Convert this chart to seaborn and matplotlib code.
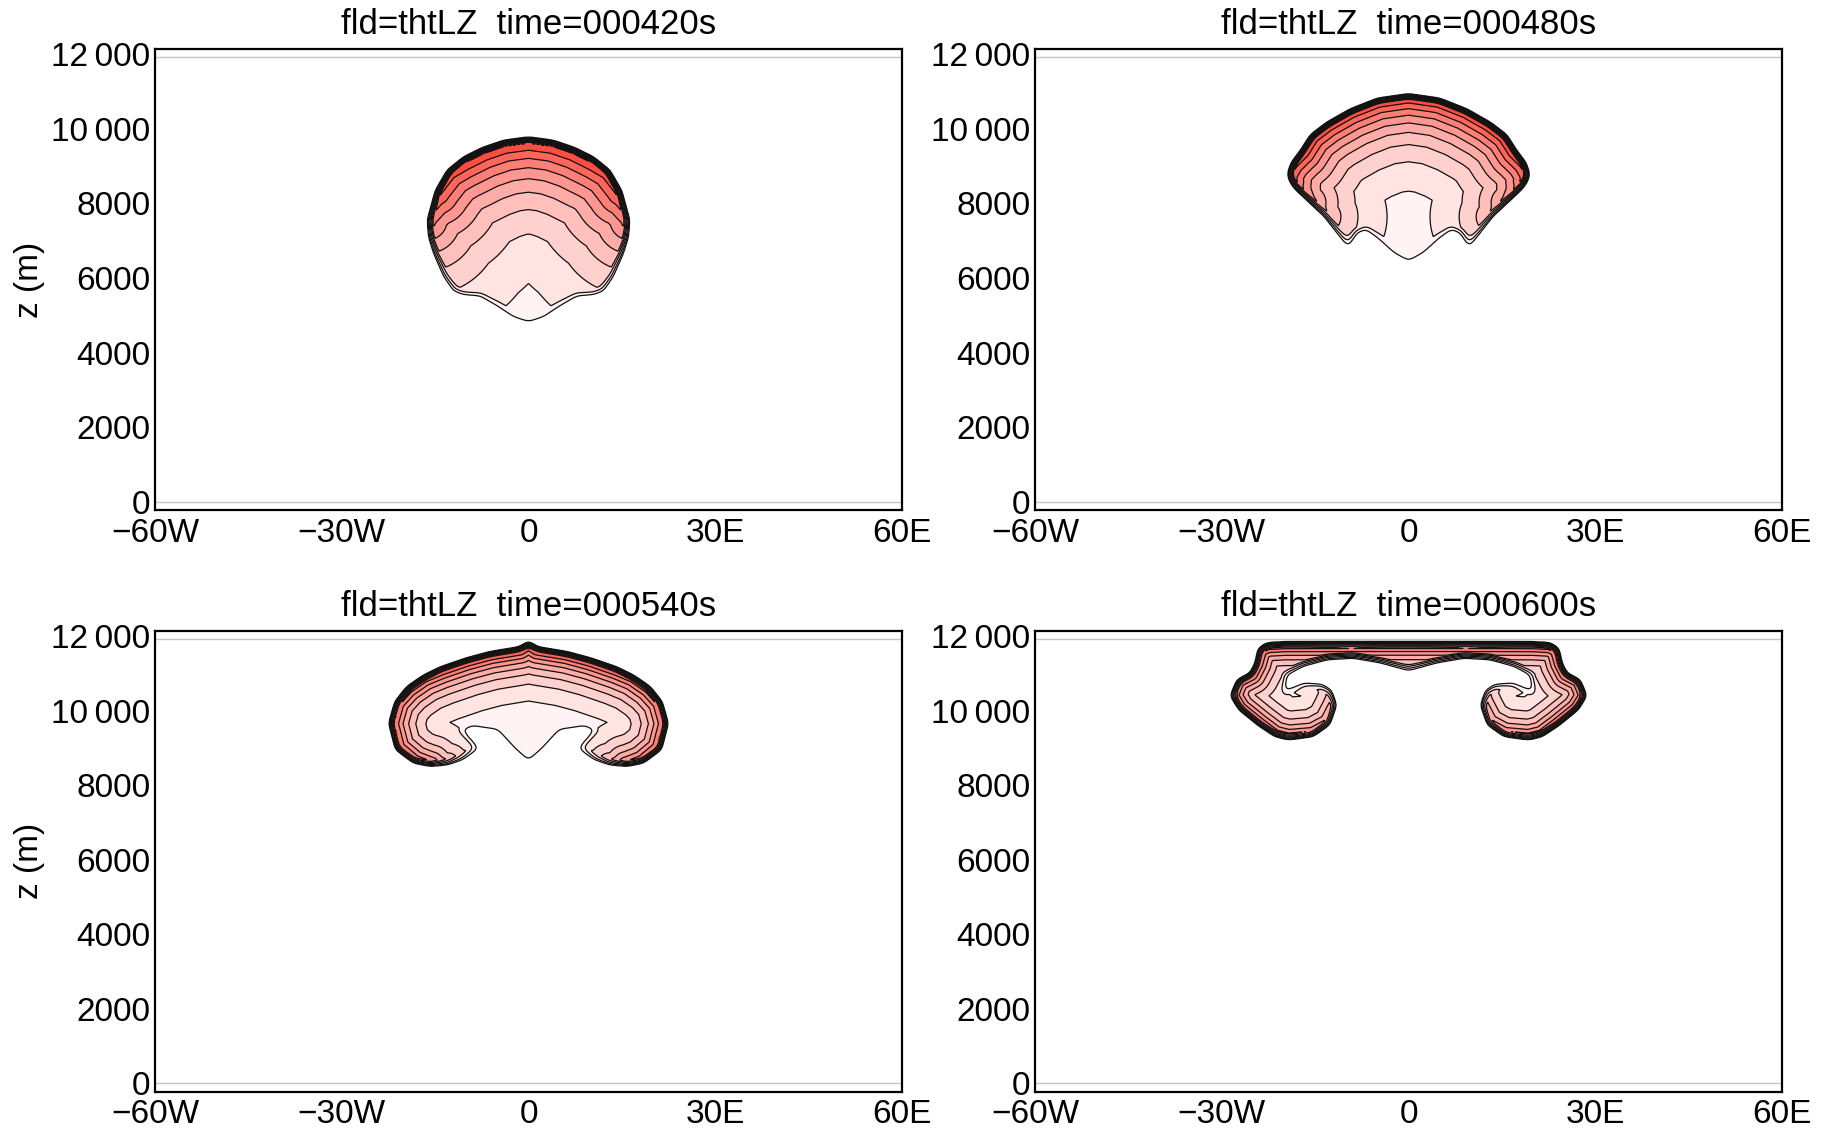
import numpy as np
import matplotlib
matplotlib.use("Agg")
import matplotlib.pyplot as plt
from matplotlib.path import Path
import seaborn as sns

sns.set_theme(style="white")
plt.rcParams['font.family'] = ['Liberation Sans', 'DejaVu Sans']
plt.rcParams['text.color'] = 'black'
plt.rcParams['axes.labelcolor'] = 'black'

times = ["000420", "000480", "000540", "000600"]
xticks = [-60, -30, 0, 30, 60]
xlabels = ["\u221260W", "\u221230W", "0", "30E", "60E"]
zticks = [0, 2000, 4000, 6000, 8000, 10000, 12000]
zlabels = ["0", "2000", "4000", "6000", "8000", "10\u2009000", "12\u2009000"]

# bubble outlines: x (km), z (m), and how warm the edge is there (0-1)
x420 = [0, 4, 7.5, 10.5, 13.1, 15, 16.3, 16.1, 15.3, 13.7, 12.1, 10.5, 7.8, 5.1, 2.5, 0,
        -2.5, -5.1, -7.8, -10.5, -12.1, -13.7, -15.3, -16.1, -16.3, -15, -13.1, -10.5, -7.5, -4]
z420 = [9790, 9700, 9500, 9250, 8900, 8350, 7560, 7100, 6660, 6040, 5640, 5540, 5500, 5230, 4930, 4780,
        4930, 5230, 5500, 5540, 5640, 6040, 6660, 7100, 7560, 8350, 8900, 9250, 9500, 9700]
h420 = [1, 1, 1, 1, 0.95, 0.9, 0.7, 0.5, 0.38, 0.25, 0.12, 0.06, 0.05, 0.05, 0.05, 0.05,
        0.05, 0.05, 0.05, 0.06, 0.12, 0.25, 0.38, 0.5, 0.7, 0.9, 0.95, 1, 1, 1]

x480 = [0, 5, 9.4, 13.2, 15.8, 17.4, 18.9, 19.5, 19.2, 18.4, 16, 13.6, 9.7, 8.2, 6.9, 5, 2.5, 0,
        -2.5, -5, -6.9, -8.2, -9.7, -13.6, -16, -18.4, -19.2, -19.5, -18.9, -17.4, -15.8, -13.2, -9.4, -5]
z480 = [10950, 10830, 10540, 10180, 9850, 9430, 9100, 8800, 8600, 8400, 8020, 7645, 6800, 7200, 7290, 7050, 6650, 6390,
        6650, 7050, 7290, 7200, 6800, 7645, 8020, 8400, 8600, 8800, 9100, 9430, 9850, 10180, 10540, 10830]
h480 = [1, 1, 1, 1, 1, 1, 0.95, 0.9, 0.85, 0.75, 0.6, 0.45, 0.12, 0.05, 0.05, 0.05, 0.05, 0.05,
        0.05, 0.05, 0.05, 0.05, 0.12, 0.45, 0.6, 0.75, 0.85, 0.9, 0.95, 1, 1, 1, 1, 1]

x540 = [0, 1.5, 6.2, 10, 14.2, 17, 19.6, 21.5, 22.5, 21.4, 18.5, 15.8, 13, 10.5, 7.8, 10.4, 8.9, 5.1, 2.4, 0,
        -2.4, -5.1, -8.9, -10.4, -7.8, -10.5, -13, -15.8, -18.5, -21.4, -22.5, -21.5, -19.6, -17, -14.2, -10, -6.2, -1.5]
z540 = [11880, 11720, 11590, 11420, 11180, 10950, 10650, 10250, 9660, 8950, 8590, 8500, 8540, 8680, 8990, 9485, 9556, 9437, 8950, 8590,
        8950, 9437, 9556, 9485, 8990, 8680, 8540, 8500, 8590, 8950, 9660, 10250, 10650, 10950, 11180, 11420, 11590, 11720]
h540 = [1, 1, 1, 1, 1, 0.95, 0.95, 0.9, 0.9, 0.9, 0.85, 0.75, 0.5, 0.3, 0.08, 0.05, 0.05, 0.05, 0.05, 0.05,
        0.05, 0.05, 0.05, 0.05, 0.08, 0.3, 0.5, 0.75, 0.85, 0.9, 0.9, 0.9, 0.95, 0.95, 1, 1, 1, 1]

x600 = [0, -10, -20, -22.8, -24.2, -24.7, -25.5, -27.6, -28.7, -27.3, -24.2, -21.5, -19.3, -15.3, -12.6, -11.5,
        -12.3, -13.8, -16.8, -19.8, -19.4, -16.9, -13, -8.9, -4.6, 0,
        4.6, 8.9, 13, 16.9, 19.4, 19.8, 16.8, 13.8, 12.3, 11.5, 12.6, 15.3, 19.3, 21.5, 24.2,
        27.3, 28.7, 27.6, 25.5, 24.7, 24.2, 22.8, 20, 10]
z600 = [11860, 11860, 11855, 11830, 11680, 11280, 11020, 10840, 10400, 10020, 9600, 9300, 9210, 9300, 9620, 10150,
        10550, 10720, 10760, 10560, 10950, 11180, 11360, 11400, 11275, 11060,
        11275, 11400, 11360, 11180, 10950, 10560, 10760, 10720, 10550, 10150, 9620, 9300, 9210, 9300, 9600,
        10020, 10400, 10840, 11020, 11280, 11680, 11830, 11855, 11860]
h600 = [1, 1, 1, 1, 0.95, 0.9, 0.9, 0.9, 0.9, 0.9, 0.9, 0.85, 0.85, 0.8, 0.7, 0.6,
        0.4, 0.3, 0.2, 0.1, 0.1, 0.1, 0.08, 0.06, 0.05, 0.05,
        0.05, 0.06, 0.08, 0.1, 0.1, 0.1, 0.2, 0.3, 0.4, 0.6, 0.7, 0.8, 0.85, 0.85, 0.9,
        0.9, 0.9, 0.9, 0.9, 0.9, 0.95, 1, 1, 1]

outlines = [(x420, z420, h420), (x480, z480, h480), (x540, z540, h540), (x600, z600, h600)]
decay = [60, 42, 24, 20]   # px, how fast the warmth fades away from the edge

levels = [0.02, 0.1, 0.2, 0.3, 0.4, 0.5, 0.6, 0.7, 0.8, 0.9, 1.0]

SX = 747 / 120.0      # px per km on screen
SZ = 461 / 12360.0    # px per m on screen
STEP = 0.6            # grid step in px
RIM = 6.0             # px, width of the steep edge
ROUND = 3.0           # px, rounding of the outline corners
FLOOR = 0.05


def soften(F, sigma):
    r = int(3 * sigma) + 1
    k = np.exp(-0.5 * (np.arange(-r, r + 1) / sigma) ** 2)
    k /= k.sum()
    F = np.apply_along_axis(lambda m: np.convolve(m, k, mode="same"), 0, F)
    F = np.apply_along_axis(lambda m: np.convolve(m, k, mode="same"), 1, F)
    return F


def bubble(xs, zs, hs, L):
    xs = np.asarray(xs, float)
    zs = np.asarray(zs, float)
    hs = np.asarray(hs, float)
    gx = np.arange(xs.min() - 4, xs.max() + 4, STEP / SX)
    gz = np.arange(zs.min() - 500, zs.max() + 500, STEP / SZ)
    GX, GZ = np.meshgrid(gx, gz)
    px, pz = GX * SX, GZ * SZ
    ex, ez = xs * SX, zs * SZ
    dmin = np.full(GX.shape, np.inf)
    warm = np.zeros(GX.shape)
    n = len(xs)
    for i in range(n):
        j = (i + 1) % n
        vx, vz = ex[j] - ex[i], ez[j] - ez[i]
        t = ((px - ex[i]) * vx + (pz - ez[i]) * vz) / (vx * vx + vz * vz)
        t = np.clip(t, 0, 1)
        d = np.hypot(px - ex[i] - t * vx, pz - ez[i] - t * vz)
        dmin = np.minimum(dmin, d)
        h = hs[i] + t * (hs[j] - hs[i])
        warm = np.maximum(warm, h * np.exp(-d / L))
    inside = Path(np.column_stack([xs, zs])).contains_points(
        np.column_stack([GX.ravel(), GZ.ravel()])).reshape(GX.shape)
    sd = np.where(inside, dmin, -dmin)
    sd = soften(sd, ROUND / STEP)
    edge = np.clip(sd / RIM, 0, 1)
    F = np.maximum(warm, FLOOR) * edge
    return GX, GZ, F


cmap = sns.blend_palette(["#ffffff", "#ffa39d", "#ff2a1a"], as_cmap=True)

fig = plt.figure(figsize=(18.3, 11.29), dpi=100)
pos = [[0.0847, 0.5483, 0.4082, 0.4081], [0.5656, 0.5483, 0.4082, 0.4081],
       [0.0847, 0.0330, 0.4082, 0.4081], [0.5656, 0.0330, 0.4082, 0.4081]]

for i in range(4):
    ax = fig.add_axes(pos[i])
    ax.set_facecolor("white")
    xs, zs, hs = outlines[i]
    GX, GZ, F = bubble(xs, zs, hs, decay[i])
    ax.contourf(GX, GZ, F, levels=levels, cmap=cmap, vmin=0, vmax=1)
    ax.contour(GX, GZ, F, levels=levels, colors="#111111", linewidths=0.9)
    ax.axhline(0, color="#c4c4c4", lw=1, zorder=0.5)
    ax.axhline(11920, color="#c4c4c4", lw=1, zorder=0.5)
    ax.set_xlim(-60, 60)
    ax.set_ylim(-222, 12138)
    ax.set_xticks(xticks)
    ax.set_xticklabels(xlabels)
    ax.set_yticks(zticks)
    ax.set_yticklabels(zlabels)
    ax.tick_params(axis="both", direction="in", length=3, width=1.2, labelsize=24, colors="black")
    ax.tick_params(axis="y", pad=3.5)
    ax.tick_params(axis="x", pad=5.5)
    for s in ax.spines.values():
        s.set_color("black")
        s.set_linewidth(1.6)
    ax.set_title("fld=thtLZ  time=" + times[i] + "s", fontsize=25, pad=11, color="black")
    if i % 2 == 0:
        ax.set_ylabel("z (m)", fontsize=24, labelpad=4)
    ax.grid(False)

fig.savefig("out.png", dpi=100)
